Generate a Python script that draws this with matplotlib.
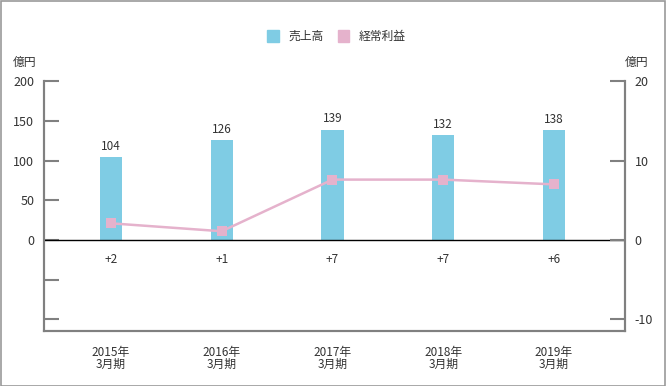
import matplotlib.pyplot as plt
from matplotlib.patches import Patch, Rectangle

plt.rcParams['font.family'] = ['Noto Sans CJK JP', 'DejaVu Sans']

# data
years = ['2015年\n3月期', '2016年\n3月期', '2017年\n3月期', '2018年\n3月期', '2019年\n3月期']
sales = [104, 126, 139, 132, 138]
profit = [2.1, 1.1, 7.6, 7.6, 7.0]
profitLabels = ['+2', '+1', '+7', '+7', '+6']

barColor = '#7fcce4'
pinkColor = '#e5b2cc'
textColor = '#333333'
axisColor = '#808080'

fig = plt.figure(figsize=(6.66, 3.86), dpi=100)
ax = fig.add_axes([0.066, 0.1425, 0.8724, 0.6475])
ax2 = ax.twinx()

xs = list(range(len(years)))
ax.bar(xs, sales, width=0.2, color=barColor, zorder=2)
for x, v in zip(xs, sales):
	ax.annotate(str(v), (x, v), xytext=(0, 3), textcoords='offset points',
		ha='center', va='bottom', fontsize=8.5, color=textColor)

ax2.plot(xs, profit, color=pinkColor, lw=1.8, marker='s', markersize=7,
	markeredgewidth=0, zorder=3)
for x, lab in zip(xs, profitLabels):
	ax2.text(x, -2.5, lab, ha='center', va='center', fontsize=8.5, color=textColor)

ax.set_xlim(-0.605, 4.641)
ax.set_ylim(-114.5, 200)
ax2.set_ylim(-11.45, 20)

ax.axhline(0, color='black', lw=1, zorder=4)

ax.set_yticks([-100, -50, 0, 50, 100, 150, 200])
ax.set_yticklabels(['', '', '0', '50', '100', '150', '200'])
ax2.set_yticks([-10, 0, 10, 20])
ax2.set_yticklabels(['-10', '0', '10', '20'])

ax.set_xticks(xs)
ax.set_xticklabels(years, fontsize=8.5, color=textColor, linespacing=0.85)
ax.tick_params(axis='x', length=0, pad=11)
ax.tick_params(axis='y', direction='in', length=11, width=1.5, color=axisColor,
	labelsize=9, labelcolor=textColor, pad=7)
ax2.tick_params(axis='y', direction='in', length=11, width=1.5, color=axisColor,
	labelsize=9, labelcolor=textColor, pad=7)

for a in (ax, ax2):
	a.spines['top'].set_visible(False)
	for s in ('left', 'right', 'bottom'):
		a.spines[s].set_color(axisColor)
		a.spines[s].set_linewidth(1.5)

fig.text(0.0195, 0.838, '億円', fontsize=8.5, color=textColor, va='center')
fig.text(0.938, 0.838, '億円', fontsize=8.5, color=textColor, va='center')

handles = [Patch(color=barColor), Patch(color=pinkColor)]
fig.legend(handles, ['売上高', '経常利益'], loc='center', bbox_to_anchor=(0.505, 0.906),
	ncol=2, frameon=False, fontsize=8.5, handlelength=1.0, handleheight=1.3,
	handletextpad=0.8, columnspacing=1.2, labelcolor=textColor)

fig.patches.append(Rectangle((0.001, 0.001), 0.997, 0.997, transform=fig.transFigure,
	fill=False, edgecolor='#999999', lw=1.2))

fig.savefig('out.png', dpi=100)
